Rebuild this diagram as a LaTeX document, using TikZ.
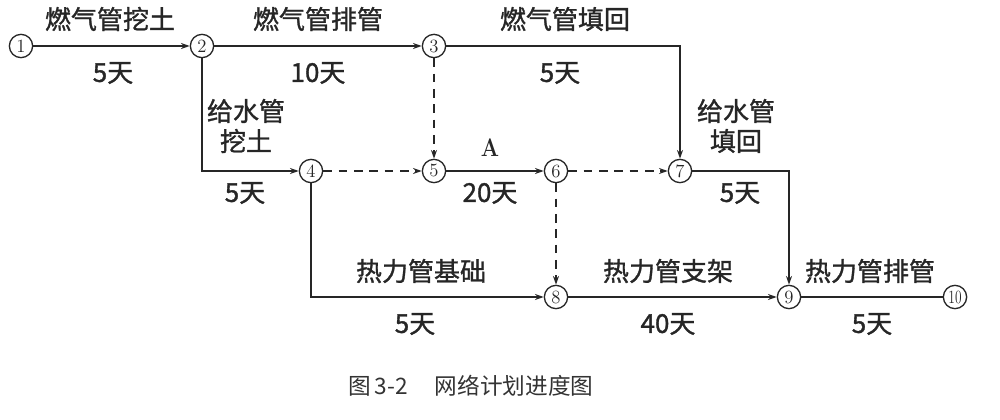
\documentclass[tikz,border=0pt]{standalone}
\usepackage{fontspec}
\newfontfamily\cjk{Noto Sans CJK SC}[FakeBold=1.2]
\newfontfamily\capfont{Noto Sans CJK SC}
\usetikzlibrary{arrows.meta}
\definecolor{ink}{HTML}{262626}
\definecolor{capink}{HTML}{333333}
\begin{document}
\begin{tikzpicture}[x=0.75pt,y=-0.75pt,
  ev/.style={circle,draw=ink,line width=1pt,minimum size=17.5pt,inner sep=0pt,
    font=\fontsize{14}{14}\selectfont,text=ink},
  act/.style={draw=ink,line width=1.05pt,-{Stealth[length=6.5pt,width=4.5pt]}},
  plain/.style={draw=ink,line width=1.05pt},
  dum/.style={act,dash pattern=on 6.5pt off 5pt},
  lbl/.style={font=\cjk\fontsize{19.5}{22}\selectfont,text=ink,inner sep=0pt},
  captext/.style={font=\capfont\fontsize{17}{20}\selectfont,text=capink,inner sep=0pt}]
\useasboundingbox (0,0) rectangle (1000,420);
% events
\node[ev] (n1) at (21,46) {1};
\node[ev] (n2) at (202,46) {2};
\node[ev] (n3) at (434,46) {3};
\node[ev] (n4) at (311,171) {4};
\node[ev] (n5) at (434,171) {5};
\node[ev] (n6) at (556,171) {6};
\node[ev] (n7) at (680,171) {7};
\node[ev] (n8) at (556,297) {8};
\node[ev] (n9) at (789,297) {9};
\node[ev] (n10) at (955,297) {\scalebox{0.72}[1]{10}};
% activities
\draw[act] (n1) -- (n2);
\draw[act] (n2) -- (n3);
\draw[act] (n2.south) |- (n4);
\draw[dum] (n4) -- (n5);
\draw[dum] (n3) -- (n5);
\draw[act] (n5) -- (n6);
\draw[dum] (n6) -- (n7);
\draw[dum] (n6) -- (n8);
\draw[act] (n3) -| (n7);
\draw[act] (n7) -| (n9);
\draw[act] (n4) |- (n8);
\draw[act] (n8) -- (n9);
\draw[plain] (n9) -- (n10);
% labels
\node[lbl] (l12) at (110,19) {燃气管挖土};
\node[lbl] (d12) at (113,73) {5天};
\node[lbl] (l23) at (318,19) {燃气管排管};
\node[lbl] (d23) at (318,73) {10天};
\node[lbl] (l37) at (565,19) {燃气管填回};
\node[lbl] (d37) at (560,73) {5天};
\node[lbl] (l24a) at (246,111) {给水管};
\node[lbl] (l24b) at (246,141) {挖土};
\node[lbl] (d24) at (245,193) {5天};
\node[font=\rmfamily\bfseries\fontsize{19}{19}\selectfont,text=ink,inner sep=0pt] (l56) at (490,148) {\scalebox{0.85}[1]{A}};
\node[lbl] (d56) at (490,193) {20天};
\node[lbl] (l79a) at (736,111) {给水管};
\node[lbl] (l79b) at (736,141) {填回};
\node[lbl] (d79) at (740,193) {5天};
\node[lbl] (l48) at (421,271) {热力管基础};
\node[lbl] (d48) at (415,324) {5天};
\node[lbl] (l89) at (668,271) {热力管支架};
\node[lbl] (d89) at (668,324) {40天};
\node[lbl] (l910) at (870,271) {热力管排管};
\node[lbl] (d910) at (872,324) {5天};
\node[captext,anchor=west] (caption) at (348,386) {图\,3-2\hspace{1.2em}网络计划进度图};
\end{tikzpicture}
\end{document}
